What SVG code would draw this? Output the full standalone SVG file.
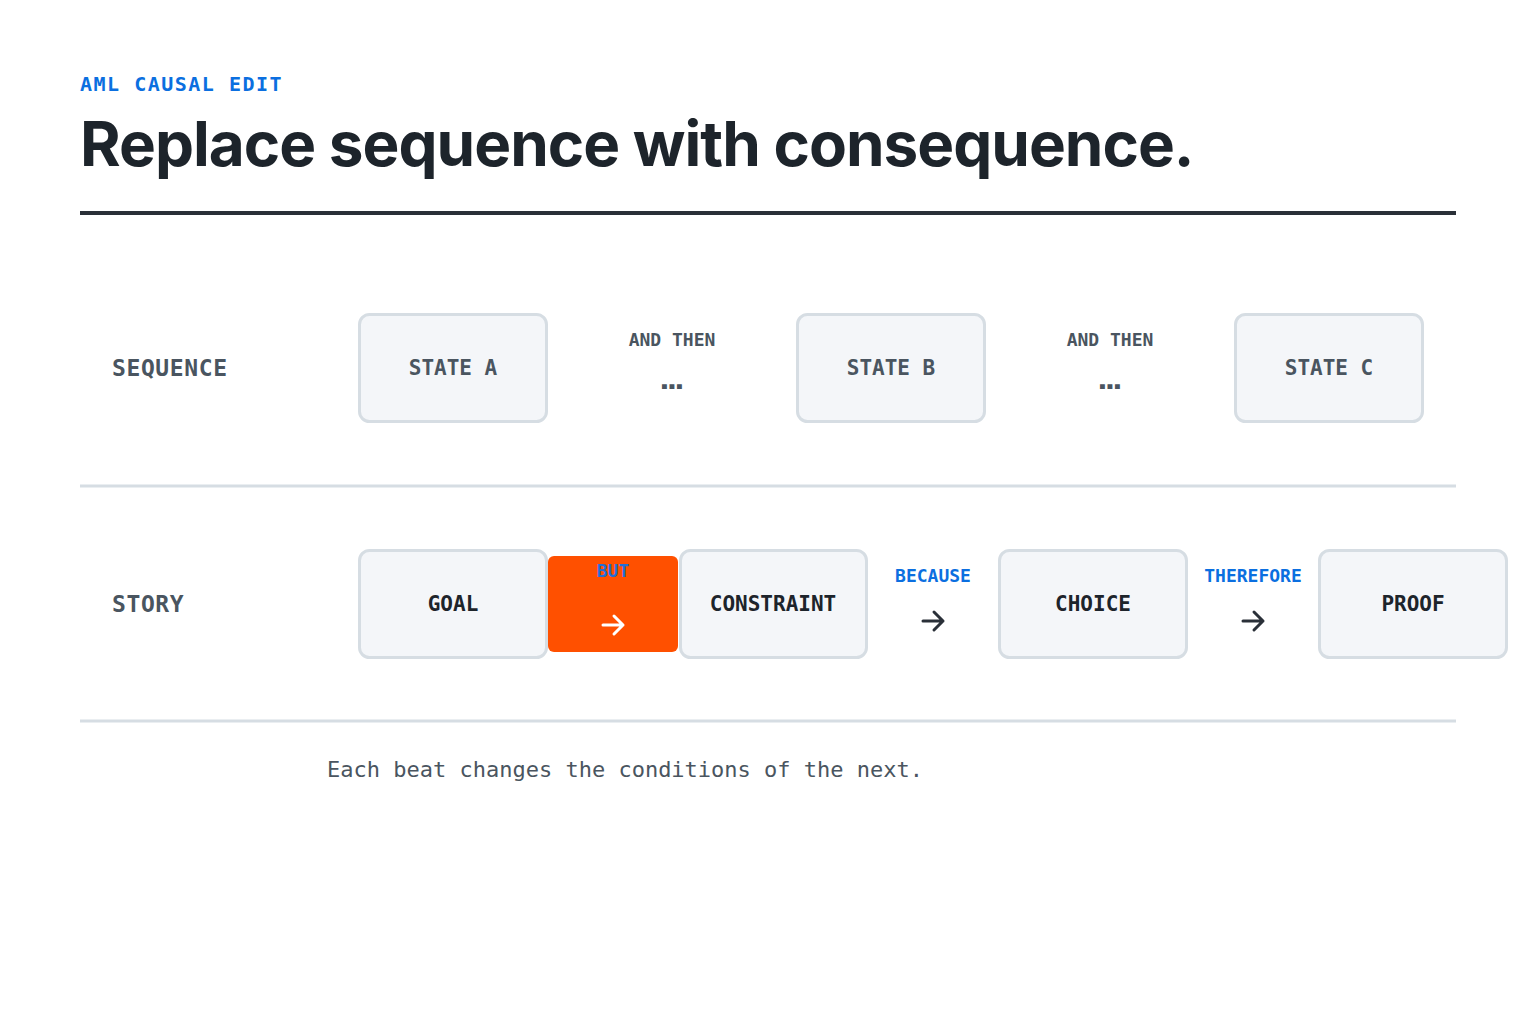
<svg xmlns="http://www.w3.org/2000/svg" width="1536" height="1024" viewBox="0 0 1536 1024">
<defs>
<path id="arw" d="M-10 0 H10 M1 -9 L10 0 L1 9" fill="none" stroke-width="3" stroke-linecap="round" stroke-linejoin="round"/>
</defs>
<style>
.mono{font-family:"DejaVu Sans Mono","Liberation Mono",monospace;}
.node rect.box{fill:#f4f6f9;stroke:#d6dde3;stroke-width:3;}
.nlabel{font-family:"DejaVu Sans Mono","Liberation Mono",monospace;font-size:21px;font-weight:bold;text-anchor:middle;fill:#1d242b;}
.slabel{font-family:"DejaVu Sans Mono","Liberation Mono",monospace;font-size:21px;font-weight:bold;text-anchor:middle;fill:#4a5560;}
.rowlabel{font-family:"DejaVu Sans Mono","Liberation Mono",monospace;font-size:23px;font-weight:bold;fill:#4a5560;letter-spacing:0.6px;}
.conn{font-family:"DejaVu Sans Mono","Liberation Mono",monospace;font-size:18px;font-weight:bold;text-anchor:middle;}
.dots{font-family:"DejaVu Sans Mono","Liberation Mono",monospace;font-size:12.5px;text-anchor:middle;fill:#4a5560;}
</style>
<rect width="1536" height="1024" fill="#ffffff"/>
<text x="80" y="91" class="mono" font-size="20" font-weight="bold" fill="#0b6fe0" letter-spacing="1.5">AML CAUSAL EDIT</text>
<text x="80" y="166" font-family="Inter,'Liberation Sans',sans-serif" font-size="62" font-weight="bold" fill="#1d242b" letter-spacing="-1">Replace sequence with consequence.</text>
<rect x="80" y="211" width="1376" height="4" fill="#2a3038"/>
<rect x="80" y="484.5" width="1376" height="3" fill="#d6dde3"/>
<rect x="80" y="719.5" width="1376" height="3" fill="#d6dde3"/>

<text x="112" y="376" class="rowlabel">SEQUENCE</text>
<text x="112" y="612" class="rowlabel">STORY</text>

<g id="stateA" class="node"><rect class="box" x="359.5" y="314.5" width="187" height="107" rx="10"/><text x="453" y="375" class="slabel">STATE A</text></g>
<g id="stateB" class="node"><rect class="box" x="797.5" y="314.5" width="187" height="107" rx="10"/><text x="891" y="375" class="slabel">STATE B</text></g>
<g id="stateC" class="node"><rect class="box" x="1235.5" y="314.5" width="187" height="107" rx="10"/><text x="1329" y="375" class="slabel">STATE C</text></g>

<g id="goal" class="node"><rect class="box" x="359.5" y="550.5" width="187" height="107" rx="10"/><text x="453" y="611" class="nlabel">GOAL</text></g>
<g id="constraint" class="node"><rect class="box" x="680.5" y="550.5" width="186" height="107" rx="10"/><text x="773" y="611" class="nlabel">CONSTRAINT</text></g>
<g id="choice" class="node"><rect class="box" x="999.5" y="550.5" width="187" height="107" rx="10"/><text x="1093" y="611" class="nlabel">CHOICE</text></g>
<g id="proof" class="node"><rect class="box" x="1319.5" y="550.5" width="187" height="107" rx="10"/><text x="1413" y="611" class="nlabel">PROOF</text></g>

<g id="connectors">
  <g id="c-ab"><text x="672" y="346" class="conn" fill="#4a5560">AND THEN</text><text x="672" y="390" class="dots">▪▪▪</text></g>
  <g id="c-bc"><text x="1110" y="346" class="conn" fill="#4a5560">AND THEN</text><text x="1110" y="390" class="dots">▪▪▪</text></g>
  <g id="c-but"><rect x="548" y="556" width="130" height="96" rx="6" fill="#ff5000"/><text x="613" y="577" class="conn" fill="#1f6fd6">BUT</text><use href="#arw" x="613" y="625" stroke="#ffffff"/></g>
  <g id="c-because"><text x="933" y="582" class="conn" fill="#0b6fe0">BECAUSE</text><use href="#arw" x="933" y="621" stroke="#2a3038"/></g>
  <g id="c-therefore"><text x="1253" y="582" class="conn" fill="#0b6fe0">THEREFORE</text><use href="#arw" x="1253" y="621" stroke="#2a3038"/></g>
</g>

<text x="327" y="777" class="mono" font-size="22" fill="#4a5560">Each beat changes the conditions of the next.</text>
</svg>
